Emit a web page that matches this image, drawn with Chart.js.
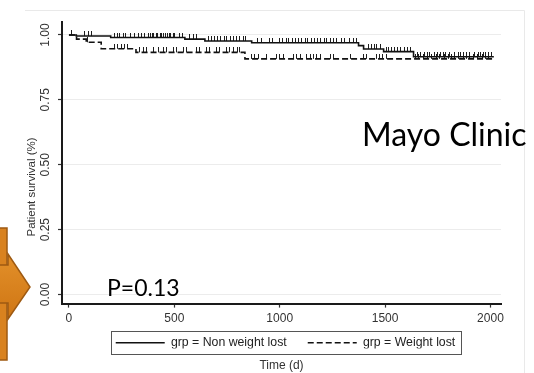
<!DOCTYPE html>
<html>
<head>
<meta charset="utf-8">
<script src="https://cdn.jsdelivr.net/npm/chart.js@4.4.1/dist/chart.umd.min.js"></script>
<style>
  html, body { margin: 0; padding: 0; background: #fff; }
  #wrap { position: relative; width: 534px; height: 373px; }
</style>
</head>
<body>
<div id="wrap"><canvas id="km" width="534" height="373"></canvas></div>
<script>
// Kaplan-Meier steps (time in days, survival)
const nonLostTimes = [0, 35, 198, 550, 645, 867, 1374, 1398, 1493, 1635, 2016];
const nonLostSurv  = [1.000, 0.996, 0.990, 0.984, 0.977, 0.970, 0.959, 0.946, 0.936, 0.916, 0.916];
const lostTimes = [0, 36, 82, 153, 318, 835, 2012];
const lostSurv  = [1.000, 0.984, 0.972, 0.947, 0.933, 0.908, 0.908];

// censored observations (little ticks on the curves)
const nonLostCensored = [12, 75, 92, 108, 218, 231, 242, 257, 270, 291, 309, 328, 346, 360, 377, 385, 396, 403, 414, 421, 432, 441, 448, 459, 466, 477, 484, 495, 502, 523, 537,
  574, 591, 604, 661, 677, 689, 706, 719, 736, 748, 766, 779, 796, 808, 826, 839, 896, 914, 951, 967, 1001, 1014, 1031, 1044, 1062, 1074, 1091, 1104, 1121, 1133,
  1152, 1164, 1181, 1193, 1212, 1224, 1241, 1256, 1269, 1291, 1309, 1331, 1348, 1362, 1421, 1434, 1449, 1461, 1476, 1506, 1517, 1531, 1544, 1561, 1574, 1592, 1604,
  1621, 1656, 1667, 1686, 1699, 1713, 1734, 1751, 1761, 1776, 1789, 1806, 1829, 1846, 1857, 1871, 1884, 1901, 1924, 1941, 1951, 1966, 1977, 1991, 2006];
const lostCensored = [90, 217, 232, 250, 265, 280, 336, 352, 367, 400, 423, 447, 463, 494, 510, 542, 558, 605, 621, 653, 669, 700, 716, 748, 764, 780, 800, 811,
  867, 880, 899, 938, 986, 1000, 1017, 1065, 1080, 1097, 1128, 1145, 1160, 1175, 1192, 1239, 1255, 1334, 1398, 1414, 1461, 1475, 1490, 1509,
  1645, 1660, 1680, 1700, 1720, 1745, 1760, 1780, 1800, 1815, 1830, 1850, 1870, 1885, 1900, 1920, 1940, 1960, 1975, 1990];

const groupLabels = ["grp = Non weight lost", "grp = Weight lost"];
const xTicks = [0, 500, 1000, 1500, 2000];
const yTicks = [0, 0.25, 0.5, 0.75, 1];

function survAt(times, surv, t) {
  let s = surv[0];
  for (let i = 0; i < times.length; i++) {
    if (times[i] <= t) s = surv[i];
  }
  return s;
}

// tick mark sitting on top of the curve
function censorMark() {
  const c = document.createElement("canvas");
  c.width = 1;
  c.height = 10;
  const g = c.getContext("2d");
  g.fillStyle = "#1e1e1e";
  g.fillRect(0, 0, 1, 5);
  return c;
}
const mark = censorMark();

const FONT = "'Liberation Sans', Arial, sans-serif";
const ink = "#111";

const extras = {
  id: "extras",
  afterLayout(chart) {
    // nudge the legend to where Stata put it
    const lg = chart.legend;
    lg.left += 4;
    lg.right += 4;
    lg.top -= 10;
    lg.bottom -= 10;
  },
  beforeDraw(chart) {
    const ctx = chart.ctx;
    ctx.save();
    ctx.strokeStyle = "#e9e9e9";
    ctx.lineWidth = 1;
    ctx.beginPath();
    ctx.moveTo(25, 10.5);
    ctx.lineTo(524.5, 10.5);
    ctx.lineTo(524.5, 373);
    ctx.stroke();
    ctx.restore();
  },
  afterDraw(chart) {
    const ctx = chart.ctx;
    ctx.save();

    // legend frame
    const hb = chart.legend.legendHitBoxes;
    if (hb && hb.length) {
      const first = hb[0], last = hb[hb.length - 1];
      const l = first.left - 5, r = last.left + last.width + 5;
      const t = first.top - 5.5, b = first.top + first.height + 5.5;
      ctx.strokeStyle = "#555";
      ctx.lineWidth = 1;
      ctx.strokeRect(Math.round(l) + 0.5, Math.round(t) + 0.5, Math.round(r - l), Math.round(b - t));
    }

    // y axis title
    ctx.fillStyle = "#333";
    ctx.font = "11.5px " + FONT;
    ctx.textAlign = "center";
    ctx.textBaseline = "middle";
    ctx.translate(31.5, 187);
    ctx.rotate(-Math.PI / 2);
    ctx.fillText("Patient survival (%)", 0, 0);
    ctx.setTransform(1, 0, 0, 1, 0, 0);

    // slide annotations
    ctx.fillStyle = "#000";
    ctx.textAlign = "left";
    ctx.textBaseline = "alphabetic";
    ctx.font = "32px Lato, 'Open Sans', sans-serif";
    ctx.fillText("Mayo Clinic", 362, 146);
    ctx.font = "23px Lato, 'Open Sans', sans-serif";
    ctx.fillText("P=0.13", 107, 295.5);

    // orange arrow on the left edge
    ctx.fillStyle = "#d9821f";
    ctx.strokeStyle = "#9e5a12";
    ctx.lineWidth = 1.5;
    ctx.fillRect(-10, 228, 17, 132);
    ctx.strokeRect(-10, 228, 17, 132);
    const grad = ctx.createLinearGradient(0, 254, 0, 318);
    grad.addColorStop(0, "#e3902a");
    grad.addColorStop(1, "#cf7614");
    ctx.fillStyle = grad;
    ctx.beginPath();
    ctx.moveTo(-2, 265);
    ctx.lineTo(8, 265);
    ctx.lineTo(8, 254);
    ctx.lineTo(30, 287);
    ctx.lineTo(8, 319);
    ctx.lineTo(8, 303);
    ctx.lineTo(-2, 303);
    ctx.closePath();
    ctx.fill();
    ctx.stroke();

    ctx.restore();
  }
};

const ctx = document.getElementById("km").getContext("2d");
const kmChart = new Chart(ctx, {
  type: "line",
  data: {
    datasets: [
      {
        label: groupLabels[0],
        data: nonLostTimes.map((t, i) => ({ x: t, y: nonLostSurv[i] })),
        stepped: "before",
        borderColor: ink,
        borderWidth: 1.6,
        pointRadius: 0,
        fill: false,
        pointStyle: "line"
      },
      {
        label: groupLabels[1],
        data: lostTimes.map((t, i) => ({ x: t, y: lostSurv[i] })),
        stepped: "before",
        borderColor: ink,
        borderWidth: 1.6,
        borderDash: [6, 3],
        pointRadius: 0,
        fill: false,
        pointStyle: "line"
      },
      {
        label: "censored 0",
        data: nonLostCensored.map(t => ({ x: t, y: survAt(nonLostTimes, nonLostSurv, t) })),
        showLine: false,
        pointStyle: mark,
        pointRadius: 3,
        pointHoverRadius: 3
      },
      {
        label: "censored 1",
        data: lostCensored.map(t => ({ x: t, y: survAt(lostTimes, lostSurv, t) })),
        showLine: false,
        pointStyle: mark,
        pointRadius: 3,
        pointHoverRadius: 3
      }
    ]
  },
  options: {
    responsive: false,
    animation: false,
    devicePixelRatio: 1,
    layout: { padding: { top: 22, right: 33, bottom: 0, left: 0 } },
    plugins: {
      tooltip: { enabled: false },
      legend: {
        position: "bottom",
        fullSize: false,
        align: "center",
        maxHeight: 33,
        labels: {
          usePointStyle: true,
          pointStyleWidth: 49,
          padding: 21,
          color: "#222",
          font: { family: FONT, size: 12.3 },
          filter: item => item.datasetIndex < 2,
          generateLabels: chart => {
            const items = Chart.defaults.plugins.legend.labels.generateLabels(chart);
            items.forEach(it => {
              const ds = chart.data.datasets[it.datasetIndex];
              it.lineDash = ds.borderDash || [];
              it.lineWidth = ds.borderWidth;
              it.strokeStyle = ds.borderColor;
            });
            return items;
          }
        }
      },
      title: {
        display: true,
        position: "bottom",
        fullSize: false,
        text: "Time (d)",
        color: "#333",
        font: { family: FONT, size: 12, weight: "normal" },
        padding: { top: 0, bottom: 0 }
      }
    },
    scales: {
      x: {
        type: "linear",
        min: -33,
        max: 2050,
        afterFit: s => { s.height = 22; },
        afterBuildTicks: s => { s.ticks = xTicks.map(v => ({ value: v })); },
        border: { display: true, color: "#1a1a1a", width: 2 },
        grid: { drawOnChartArea: false, drawTicks: true, tickLength: 4, tickColor: "#333", tickWidth: 1.2 },
        ticks: { color: "#333", padding: 4, font: { family: FONT, size: 12 }, maxRotation: 0, callback: v => String(v) }
      },
      y: {
        min: -0.035,
        max: 1.05,
        afterFit: s => { s.width = 62; },
        afterBuildTicks: s => { s.ticks = yTicks.map(v => ({ value: v })); },
        border: { display: true, color: "#1a1a1a", width: 2 },
        grid: { color: "#ececec", lineWidth: 1, drawTicks: true, tickLength: 4, tickColor: "#333", tickWidth: 1.2 },
        ticks: {
          color: "#333",
          padding: 1,
          minRotation: 90,
          maxRotation: 90,
          crossAlign: "center",
          font: { family: FONT, size: 12 },
          callback: v => Number(v).toFixed(2)
        }
      }
    }
  },
  plugins: [extras]
});
</script>
</body>
</html>
